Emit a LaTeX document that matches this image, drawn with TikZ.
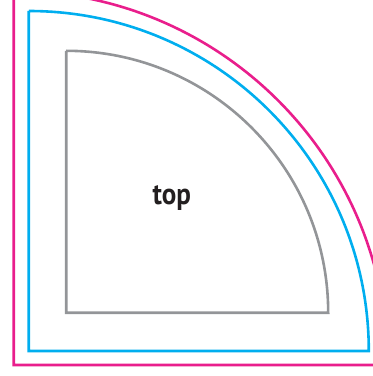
\documentclass[tikz,border=0pt]{standalone}
\usepackage{fontspec}
\setmainfont{PT Sans}
\definecolor{mag}{RGB}{233,30,140}
\definecolor{cya}{RGB}{0,174,239}
\definecolor{gry}{RGB}{147,149,152}
\definecolor{ink}{RGB}{35,31,32}
\begin{document}
\begin{tikzpicture}[x=1pt,y=1pt,
  quarter/.style={line width=2.6pt,line join=miter}]
\useasboundingbox (0,0) rectangle (373,376);
\clip (0,0) rectangle (373,376);
\draw[quarter,mag] (13.7,385) -- (13.7,11) -- (387.7,11) arc[start angle=0,end angle=90,radius=374];
\draw[quarter,cya] (28.8,365) -- (28.8,25) -- (368.8,25) arc[start angle=0,end angle=90,radius=340];
\draw[quarter,gry] (66.2,325.2) -- (66.2,63.2) -- (328.2,63.2) arc[start angle=0,end angle=90,radius=262];
\node[font=\bfseries\fontsize{30}{30}\selectfont,text=ink,anchor=base,inner sep=0pt,xscale=0.9,transform shape] (label) at (171.8,171.7) {top};
\end{tikzpicture}
\end{document}
